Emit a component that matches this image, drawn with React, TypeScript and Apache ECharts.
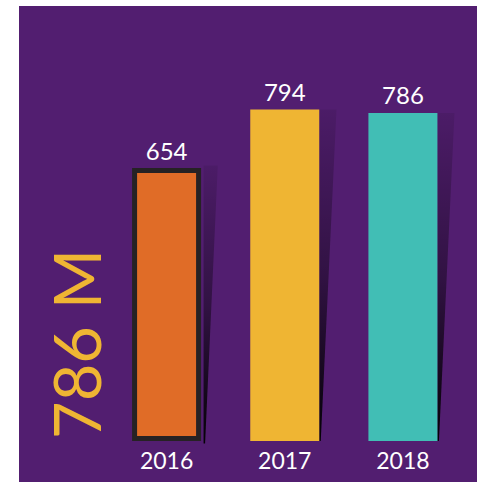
import React, { useEffect, useRef } from "react";
import * as echarts from "echarts";

const categories = ["2016", "2017", "2018"];
const values = [654, 794, 786];
const barColors = ["#E06C27", "#EFB533", "#41BEB5"];
const outlinedIndex = 0;
const highlightText = `${values[values.length - 1]} M`;

export default function App() {
  const ref = useRef<HTMLDivElement>(null);
  useEffect(() => {
    if (!ref.current) return;
    const chart = echarts.init(ref.current, null, { renderer: "svg" });
    const font = "Lato, 'Open Sans', sans-serif";
    const barWidth = 69;
    chart.setOption({
      animation: false,
      backgroundColor: "#521E70",
      grid: { left: 88.5, right: 15, top: 17.6, bottom: 41 },
      xAxis: {
        type: "category",
        data: categories,
        axisLine: { show: false },
        axisTick: { show: false },
        axisLabel: { color: "#ffffff", fontSize: 23, fontFamily: font, margin: 7 },
      },
      yAxis: {
        type: "value",
        min: 0,
        max: 1000,
        show: false,
        splitLine: { show: false },
      },
      graphic: [
        {
          type: "text",
          x: 57,
          y: 338,
          rotation: Math.PI / 2,
          style: {
            text: highlightText,
            fill: "#EFB533",
            fontSize: 65,
            fontFamily: font,
            align: "center",
            verticalAlign: "middle",
          },
        },
      ],
      series: [
        {
          type: "custom",
          z: 1,
          data: values.map((v, i) => [i, v]),
          renderItem: (params: any, api: any) => {
            const idx = api.value(0);
            const val = api.value(1);
            const top = api.coord([idx, val]);
            const base = api.coord([idx, 0]);
            const extra = idx === outlinedIndex ? 2.5 : 0;
            const right = top[0] + barWidth / 2 + extra;
            const h = base[1] - top[1];
            const w = h * 0.052;
            return {
              type: "polygon",
              shape: {
                points: [
                  [right, top[1] - extra],
                  [right + w, top[1] - extra],
                  [right + 1.5, base[1] + extra],
                  [right, base[1] + extra],
                ],
              },
              style: {
                fill: new echarts.graphic.LinearGradient(0, 0, 0, 1, [
                  { offset: 0, color: "rgba(0,0,0,0.08)" },
                  { offset: 0.5, color: "rgba(0,0,0,0.4)" },
                  { offset: 1, color: "rgba(0,0,0,0.95)" },
                ]),
              },
            };
          },
        },
        {
          type: "bar",
          z: 2,
          barWidth: barWidth,
          data: values.map((v, i) => ({
            value: v,
            itemStyle: {
              color: barColors[i],
              borderColor: i === outlinedIndex ? "#262224" : barColors[i],
              borderWidth: i === outlinedIndex ? 5 : 0,
            },
          })),
          label: {
            show: true,
            position: "top",
            distance: 6,
            color: "#ffffff",
            fontSize: 24,
            fontFamily: font,
          },
        },
      ],
    });
    return () => chart.dispose();
  }, []);
  return (
    <div style={{ position: "fixed", left: 0, top: 0, width: 477, height: 482, background: "#ffffff" }}>
      <div ref={ref} style={{ position: "absolute", left: 19, top: 6, width: 458, height: 476 }} />
    </div>
  );
}
